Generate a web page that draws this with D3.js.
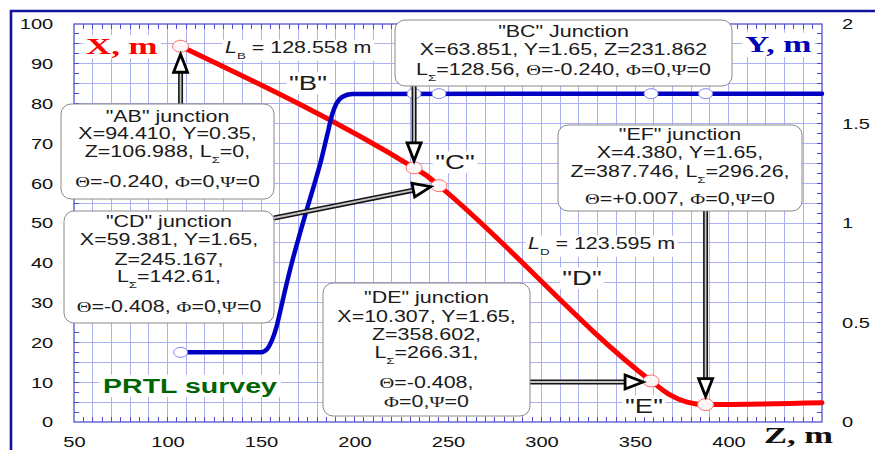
<!DOCTYPE html>
<html>
<head>
<meta charset="utf-8">
<script src="https://cdn.jsdelivr.net/npm/d3@7"></script>
<style>
  body { margin: 0; background: #fff; }
  svg { display: block; }
</style>
</head>
<body>
<svg id="chart" width="875" height="450"></svg>
<script>
// ---- Route profile data -------------------------------------------------
// Horizontal offset X (m) along the route coordinate Z (m)
const zX = [106.988, 231.862, 238.6, 245.167, 358.602, 368.0, 377.8, 387.746, 450];
const xProfile = [94.410, 63.851, 61.9, 59.381, 10.307, 7.0, 5.0, 4.380, 4.82];

// Vertical offset Y (m) along Z (m)
const zY = [106.988, 150, 153.3, 155.9, 158.1, 160.2, 162.9, 166.6, 170.9, 174.7,
            178.4, 182.2, 185.4, 188.0, 190.2, 193.4, 198.7, 450];
const yProfile = [0.35, 0.35, 0.367, 0.412, 0.472, 0.553, 0.663, 0.804, 0.950, 1.075,
                  1.191, 1.317, 1.442, 1.543, 1.598, 1.633, 1.648, 1.65];

// Junctions between route elements
const junctionNames = ["AB", "BC", "CD", "DE", "EF"];
const junctionZ = [106.988, 231.862, 245.167, 358.602, 387.746];
const junctionX = [94.410, 63.851, 59.381, 10.307, 4.380];
const junctionY = [0.35, 1.65, 1.65, 1.65, 1.65];
const junctionL = [0, 128.56, 142.61, 266.31, 296.26];
const junctionTheta = ["-0.240", "-0.240", "-0.408", "-0.408", "+0.007"];

// Straight element lengths
const elementNames = ["B", "D"];
const elementLengths = [128.558, 123.595];

// Axis ticks
const zTicks = [50, 100, 150, 200, 250, 300, 350, 400];
const xTicks = [0, 10, 20, 30, 40, 50, 60, 70, 80, 90, 100];
const yTicks = [0, 0.5, 1, 1.5, 2];

// ---- Layout -------------------------------------------------------------
const W = 875, H = 450;
const plot = { left: 74, right: 822, top: 24, bottom: 422 };
const SX = 1.34;                       // horizontal stretch of lettering
const SANS = "'Liberation Sans', Arial, sans-serif";
const SERIF = "'Liberation Serif', 'Times New Roman', serif";

const svg = d3.select("#chart");
const z = d3.scaleLinear().domain([50, 450]).range([plot.left, plot.right]);
const x = d3.scaleLinear().domain([0, 100]).range([plot.bottom, plot.top]);
const y = d3.scaleLinear().domain([0, 2]).range([plot.bottom, plot.top]);

// outer frame
svg.append("path")
  .attr("d", `M11,${H + 4} V11 H${W + 4}`)
  .attr("fill", "none").attr("stroke", "#12129c").attr("stroke-width", 2.6);

// grid
const grid = svg.append("g").attr("stroke", "#aab0f2").attr("stroke-width", 1)
  .attr("shape-rendering", "crispEdges");
grid.selectAll("line.gv").data(d3.range(60, 450, 10)).join("line").attr("class", "gv")
  .attr("x1", d => z(d)).attr("x2", d => z(d)).attr("y1", plot.top).attr("y2", plot.bottom);
grid.selectAll("line.gh").data(d3.range(5, 100, 5)).join("line").attr("class", "gh")
  .attr("y1", d => x(d)).attr("y2", d => x(d)).attr("x1", plot.left).attr("x2", plot.right);

// minor ticks on the plot frame
const tk = svg.append("g").attr("stroke", "#4b4bd2").attr("stroke-width", 1)
  .attr("shape-rendering", "crispEdges");
const zMinor = d3.range(55, 450, 5);
const xMinor = d3.range(2.5, 100, 2.5);
tk.selectAll("line.tb").data(zMinor).join("line").attr("class", "tb")
  .attr("x1", d => z(d)).attr("x2", d => z(d)).attr("y1", plot.bottom).attr("y2", plot.bottom - 5);
tk.selectAll("line.tt").data(zMinor).join("line").attr("class", "tt")
  .attr("x1", d => z(d)).attr("x2", d => z(d)).attr("y1", plot.top).attr("y2", plot.top + 5);
tk.selectAll("line.tl").data(xMinor).join("line").attr("class", "tl")
  .attr("y1", d => x(d)).attr("y2", d => x(d)).attr("x1", plot.left).attr("x2", plot.left + 5);
tk.selectAll("line.tr").data(xMinor).join("line").attr("class", "tr")
  .attr("y1", d => x(d)).attr("y2", d => x(d)).attr("x1", plot.right).attr("x2", plot.right - 5);

svg.append("rect")
  .attr("x", plot.left).attr("y", plot.top)
  .attr("width", plot.right - plot.left).attr("height", plot.bottom - plot.top)
  .attr("fill", "none").attr("stroke", "#5252d6").attr("stroke-width", 1.3);

// axes (labels only, frame drawn above)
function styleAxis(g) {
  g.select(".domain").remove();
  g.selectAll(".tick line").remove();
  g.selectAll(".tick text")
    .attr("font-family", SANS).attr("font-size", 15).attr("fill", "#111")
    .attr("transform", `scale(${SX},1)`);
}
svg.append("g").attr("transform", `translate(${plot.left},0)`)
  .call(d3.axisLeft(x).tickValues(xTicks).tickSize(0).tickPadding(15.5).tickFormat(d3.format("d")))
  .call(styleAxis);
svg.append("g").attr("transform", `translate(${plot.right},0)`)
  .call(d3.axisRight(y).tickValues(yTicks).tickSize(0).tickPadding(15).tickFormat(d => String(d)))
  .call(styleAxis);
svg.append("g").attr("transform", `translate(0,${plot.bottom})`)
  .call(d3.axisBottom(z).tickValues(zTicks).tickSize(0).tickPadding(14).tickFormat(d3.format("d")))
  .call(styleAxis);

// ---- Profiles -----------------------------------------------------------
const xLine = d3.line().x((d, i) => z(zX[i])).y(d => x(d)).curve(d3.curveMonotoneX);
const yLine = d3.line().x((d, i) => z(zY[i])).y(d => y(d)).curve(d3.curveMonotoneX);

svg.append("path").attr("d", xLine(xProfile))
  .attr("fill", "none").attr("stroke", "#ff0000").attr("stroke-width", 5)
  .attr("stroke-linejoin", "round").attr("stroke-linecap", "round");
svg.append("path").attr("d", yLine(yProfile))
  .attr("fill", "none").attr("stroke", "#0000c4").attr("stroke-width", 4.5)
  .attr("stroke-linejoin", "round").attr("stroke-linecap", "round");

// junction markers
svg.selectAll("ellipse.jy").data(junctionY).join("ellipse").attr("class", "jy")
  .attr("cx", (d, i) => z(junctionZ[i])).attr("cy", d => y(d))
  .attr("rx", 7).attr("ry", 5)
  .attr("fill", "#ffffff").attr("stroke", "#7f86f0").attr("stroke-width", 1);
svg.selectAll("ellipse.jx").data(junctionX).join("ellipse").attr("class", "jx")
  .attr("cx", (d, i) => z(junctionZ[i])).attr("cy", d => x(d))
  .attr("rx", 8).attr("ry", 6)
  .attr("fill", "#fff6f6").attr("stroke", "#ff7070").attr("stroke-width", 1);

// ---- Text helpers -------------------------------------------------------
function richText(parent, str, px, py, size, anchor) {
  const g = parent.append("g").attr("transform", `translate(${px},${py}) scale(${SX},1)`);
  const t = g.append("text").attr("text-anchor", anchor || "middle")
    .attr("font-family", SANS).attr("font-size", size).attr("fill", "#1b1b1b");
  const parts = str.split(/(_Σ|_B|_D|Θ|Φ|Ψ|§L)/).filter(s => s.length);
  let shift = 0;
  parts.forEach(p => {
    const ts = t.append("tspan");
    if (p[0] === "_") {
      ts.text(p.slice(1)).attr("font-size", size * 0.62).attr("dy", 6);
      shift = 6;
      return;
    }
    if (p === "§L") ts.text("L").attr("font-style", "italic");
    else if (/^[ΘΦΨ]$/.test(p)) ts.text(p).attr("font-family", SERIF).attr("font-size", size * 0.95);
    else ts.text(p);
    if (shift) { ts.attr("dy", -shift); shift = 0; }
  });
  return g;
}
function withBackground(g, pad) {
  const b = g.select("text").node().getBBox();
  g.insert("rect", "text").attr("x", b.x - pad).attr("y", b.y + 1)
    .attr("width", b.width + 2 * pad).attr("height", b.height - 1).attr("fill", "#fff");
  return g;
}

// ---- Callout arrows -----------------------------------------------------
const arrows = svg.append("g");
function arrow(x1, y1, x2, y2) {
  const dx = x2 - x1, dy = y2 - y1, len = Math.hypot(dx, dy);
  const ux = dx / len, uy = dy / len, hl = 18, hw = 7;
  const bx = x2 - ux * hl, by = y2 - uy * hl;
  arrows.append("line").attr("x1", x1).attr("y1", y1).attr("x2", bx).attr("y2", by)
    .attr("stroke", "#151515").attr("stroke-width", 5);
  arrows.append("line").attr("x1", x1).attr("y1", y1).attr("x2", bx).attr("y2", by)
    .attr("stroke", "#c4c4c4").attr("stroke-width", 1.8);
  arrows.append("path")
    .attr("d", `M${x2},${y2} L${bx - uy * hw},${by + ux * hw} L${bx + uy * hw},${by - ux * hw} Z`)
    .attr("fill", "#fff").attr("stroke", "#000").attr("stroke-width", 2.8)
    .attr("stroke-linejoin", "miter");
}
const jp = i => [z(junctionZ[i]), x(junctionX[i])];
{ const [px, py] = jp(0); arrow(px, 104, px, py + 8); }
{ const [px, py] = jp(1); arrow(px, 86, px, py - 7); }
{ const [px, py] = jp(2); arrow(274, 218, px - 8, py + 1); }
{ const [px, py] = jp(3); arrow(530, py + 1, px - 8, py + 1); }
{ const [px, py] = jp(4); arrow(px, 211, px, py - 8); }

// ---- Callout boxes ------------------------------------------------------
const f3 = v => v.toFixed(3), f2 = v => v.toFixed(2);
const fL = v => v === 0 ? "0" : f2(v);
const J = i => ({
  X: "X=" + f3(junctionX[i]), Y: "Y=" + f2(junctionY[i]), Z: "Z=" + f3(junctionZ[i]),
  L: "L_Σ=" + fL(junctionL[i]), T: "Θ=" + junctionTheta[i]
});
const boxes = [
  { i: 0, x: 61, y: 104, w: 213, h: 95,
    lines: j => [`"${junctionNames[0]}" junction`, `${j.X}, ${j.Y},`, `${j.Z}, ${j.L},`, `${j.T}, Φ=0,Ψ=0`],
    off: [18, 35, 53, 83] },
  { i: 1, x: 395, y: 20, w: 337, h: 66,
    lines: j => [`"${junctionNames[1]}" Junction`, `${j.X}, ${j.Y}, ${j.Z}`, `${j.L}, ${j.T}, Φ=0,Ψ=0`],
    off: [17, 35, 55] },
  { i: 2, x: 64, y: 211, w: 210, h: 112,
    lines: j => [`"${junctionNames[2]}" junction`, `${j.X}, ${j.Y},`, `${j.Z},`, `${j.L},`, `${j.T}, Φ=0,Ψ=0`],
    off: [16, 34, 54, 71, 101] },
  { i: 3, x: 323, y: 283, w: 207, h: 133,
    lines: j => [`"${junctionNames[3]}" junction`, `${j.X}, ${j.Y},`, `${j.Z},`, `${j.L},`, `${j.T},`, "Φ=0,Ψ=0"],
    off: [20, 39, 57, 75, 105, 124] },
  { i: 4, x: 558, y: 125, w: 244, h: 86,
    lines: j => [`"${junctionNames[4]}" junction`, `${j.X}, ${j.Y},`, `${j.Z}, ${j.L},`, `${j.T}, Φ=0,Ψ=0`],
    off: [15, 33, 52, 79] }
];
const boxLayer = svg.append("g");
boxes.forEach(b => {
  boxLayer.append("rect").attr("x", b.x).attr("y", b.y).attr("width", b.w).attr("height", b.h)
    .attr("rx", 10).attr("fill", "#fff").attr("stroke", "#8a8a8a").attr("stroke-width", 1);
  b.lines(J(b.i)).forEach((s, k) => richText(boxLayer, s, b.x + b.w / 2, b.y + b.off[k], 16));
});

// ---- Free labels --------------------------------------------------------
const lab = svg.append("g");
withBackground(richText(lab, `§L_${elementNames[0]} = ${f3(elementLengths[0])} m`, 225, 53, 16, "start"), 2);
withBackground(richText(lab, `§L_${elementNames[1]} = ${f3(elementLengths[1])} m`, 528, 249, 16, "start"), 2);
withBackground(richText(lab, '"B"', 308, 90, 20.5), 2);
withBackground(richText(lab, '"C"', 455, 169, 20.5), 2);
withBackground(richText(lab, '"D"', 582, 285, 20.5), 2);
withBackground(richText(lab, '"E"', 644, 413, 20.5), 2);

function boldLabel(str, px, py, size, color, family, sx, anchor) {
  const g = lab.append("g").attr("transform", `translate(${px},${py}) scale(${sx},1)`);
  g.append("text").attr("text-anchor", anchor || "start").attr("font-family", family)
    .attr("font-weight", "bold").attr("font-size", size).attr("fill", color).text(str);
  return g;
}
withBackground(boldLabel("X, m", 86, 54, 22.5, "#ff0000", SERIF, 1.55), 2);
withBackground(boldLabel("Y, m", 745, 52, 22.5, "#0000b4", SERIF, 1.5), 2);
boldLabel("Z, m", 764, 443, 23, "#111", SERIF, 1.5);
withBackground(boldLabel("PRTL survey", 103, 393, 21, "#006400", SANS, 1.36), 3);
</script>
</body>
</html>
